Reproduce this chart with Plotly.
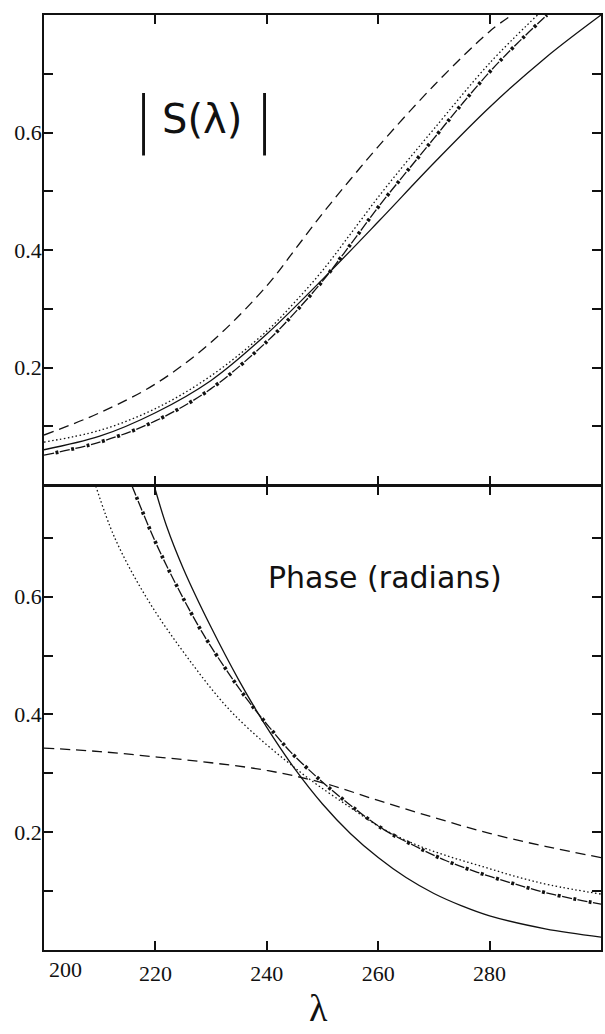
import plotly.graph_objects as go

# |S(lambda)| curves (upper panel)
top_solid_x = [200, 210, 220, 230, 240, 250, 260, 270, 280, 290, 300]
top_solid_y = [0.060, 0.083, 0.123, 0.178, 0.257, 0.350, 0.448, 0.548, 0.643, 0.727, 0.800]
top_dashed_x = [200, 210, 220, 230, 240, 245, 250, 255, 260, 270, 280, 284]
top_dashed_y = [0.085, 0.123, 0.172, 0.243, 0.339, 0.400, 0.462, 0.520, 0.576, 0.680, 0.772, 0.800]
top_dotted_x = [200, 210, 220, 230, 240, 245, 250, 255, 260, 265, 270, 280, 288.6]
top_dotted_y = [0.073, 0.093, 0.130, 0.186, 0.262, 0.311, 0.365, 0.427, 0.490, 0.549, 0.606, 0.718, 0.800]
top_dashdot_x = [200, 210, 220, 230, 240, 245, 250, 255, 260, 265, 270, 275, 280, 285, 290.3]
top_dashdot_y = [0.051, 0.073, 0.109, 0.164, 0.244, 0.293, 0.347, 0.409, 0.473, 0.532, 0.590, 0.648, 0.703, 0.752, 0.800]

# Phase curves in radians (lower panel)
bot_solid_x = [219.8, 222, 225, 230, 235, 240, 245, 250, 255, 260, 265, 270, 275, 280, 290, 300]
bot_solid_y = [0.788, 0.720, 0.648, 0.548, 0.458, 0.378, 0.308, 0.248, 0.198, 0.157, 0.123, 0.096, 0.075, 0.058, 0.036, 0.022]
bot_dashed_x = [200, 210, 220, 230, 240, 250, 260, 270, 280, 290, 300]
bot_dashed_y = [0.343, 0.337, 0.328, 0.318, 0.305, 0.284, 0.254, 0.225, 0.198, 0.176, 0.157]
bot_dotted_x = [209.3, 212.7, 218.3, 225.5, 234.1, 246.3, 255, 261, 267, 273, 279, 285, 291, 300]
bot_dotted_y = [0.788, 0.700, 0.600, 0.500, 0.400, 0.300, 0.242, 0.205, 0.178, 0.158, 0.141, 0.124, 0.110, 0.095]
bot_dashdot_x = [215.8, 220, 223.8, 228.3, 233, 236.6, 240.4, 244.3, 248.6, 251, 255.8, 261.1, 266.5, 272.1, 277.8, 283.5, 289.4, 295.5, 300]
bot_dashdot_y = [0.788, 0.693, 0.619, 0.541, 0.472, 0.424, 0.379, 0.336, 0.297, 0.277, 0.240, 0.204, 0.177, 0.152, 0.132, 0.115, 0.099, 0.086, 0.078]

x_ticks = [200, 220, 240, 260, 280]
y_ticks = [0.1, 0.2, 0.3, 0.4, 0.5, 0.6, 0.7]
y_labels = ["", "0.2", "", "0.4", "", "0.6", ""]

INK = "#111111"
LW = 1.3
SERIF = "Liberation Serif, Times New Roman, DejaVu Serif, serif"
SANS = "DejaVu Sans, Verdana, sans-serif"

fig = go.Figure()


def add_curve(x, y, xa, ya, dash):
    fig.add_trace(go.Scatter(
        x=x, y=y, xaxis=xa, yaxis=ya, mode="lines",
        line=dict(color=INK, width=LW, dash=dash, shape="spline", smoothing=1.0),
        hoverinfo="skip", showlegend=False,
    ))


def add_dashdot(x, y, xa, ya):
    # long dashes with heavy dots sitting in the gaps
    add_curve(x, y, xa, ya, "10px,6px")
    fig.add_trace(go.Scatter(
        x=x, y=y, xaxis=xa, yaxis=ya, mode="lines",
        line=dict(color=INK, width=3.6, dash="0px,11.5px,3px,1.5px",
                  shape="spline", smoothing=1.0),
        hoverinfo="skip", showlegend=False,
    ))


# upper panel
add_curve(top_solid_x, top_solid_y, "x2", "y2", "solid")
add_curve(top_dashed_x, top_dashed_y, "x2", "y2", "10px,6px")
add_curve(top_dotted_x, top_dotted_y, "x2", "y2", "1.5px,2.5px")
add_dashdot(top_dashdot_x, top_dashdot_y, "x2", "y2")

# lower panel
add_curve(bot_solid_x, bot_solid_y, "x", "y", "solid")
add_curve(bot_dashed_x, bot_dashed_y, "x", "y", "10px,6px")
add_curve(bot_dotted_x, bot_dotted_y, "x", "y", "1.5px,2.5px")
add_dashdot(bot_dashdot_x, bot_dashdot_y, "x", "y")

tick_font = dict(family=SERIF, size=22, color=INK)
axis_common = dict(
    showline=True, linecolor=INK, linewidth=1.5, mirror="ticks",
    ticks="inside", ticklen=9, tickwidth=1.5, tickcolor=INK,
    showgrid=False, zeroline=False, tickfont=tick_font,
)

# the two panels share one dividing line
fig.update_layout(
    width=605, height=1034,
    margin=dict(l=44, r=2, t=15, b=84),
    paper_bgcolor="white", plot_bgcolor="white",
    xaxis=dict(range=[200, 300], domain=[0, 1], anchor="y",
               tickvals=x_ticks[1:], ticktext=[str(v) for v in x_ticks[1:]],
               ticklabelstandoff=3, **axis_common),
    xaxis2=dict(range=[200, 300], domain=[0, 1], anchor="y2",
                tickvals=x_ticks[1:], showticklabels=False, **axis_common),
    yaxis=dict(range=[0, 0.788], domain=[0, 464 / 935], anchor="x",
               tickvals=y_ticks, ticktext=y_labels, ticklabelstandoff=-4,
               **axis_common),
    yaxis2=dict(range=[0, 0.8], domain=[465 / 935, 1], anchor="x2",
                tickvals=y_ticks, ticktext=y_labels, ticklabelstandoff=-4,
                **axis_common),
)


def label(text, x, y, size, family, xanchor="center", weight=None):
    font = dict(family=family, size=size, color=INK)
    if weight is not None:
        font["weight"] = weight
    fig.add_annotation(text=text, x=x, xref="paper", y=y, yref="paper",
                       xanchor=xanchor, yanchor="middle", showarrow=False,
                       font=font)


label("200", 0.0054, -0.0205, 22, SERIF, xanchor="left")
label("|", 0.1789, 0.8888, 62, SANS, weight=300)
label("S(λ)", 0.2844, 0.8888, 40, SANS)
label("|", 0.3953, 0.8888, 62, SANS, weight=300)
label("Phase (radians)", 0.3989, 0.3979, 30, SANS, xanchor="left")
label("λ", 0.4937, -0.0615, 38, SERIF)

fig.write_html("out.html")
